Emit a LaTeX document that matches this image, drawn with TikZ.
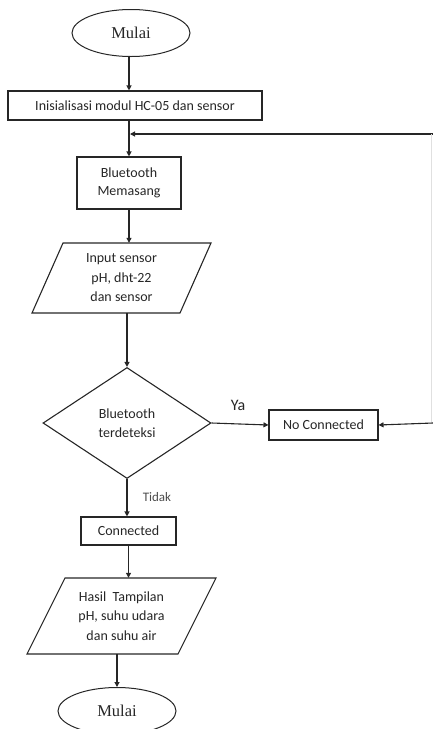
\documentclass[tikz,border=0pt]{standalone}
\usepackage{fontspec}
\setmainfont{Carlito}
\newfontfamily\mulaifont{Liberation Serif}
\usetikzlibrary{shapes.geometric,arrows.meta}
\tikzset{
  ln/.style={draw=black!85, line width=1.1pt},
  arr/.style={ln, -{Triangle[length=5pt,width=5pt]}},
  txt/.style={text=black!85, font=\fontsize{14}{19.5}\selectfont, align=center, inner sep=0pt},
  box/.style={txt, draw=black!85, line width=1.1pt, rectangle},
  term/.style={draw=black!85, line width=1pt, ellipse, inner sep=0pt, minimum width=118pt, minimum height=47pt, text=black!85, font=\mulaifont\fontsize{16.5}{18}\selectfont},
  dec/.style={txt, draw=black!85, line width=1.1pt, diamond, minimum width=168pt, minimum height=111pt},
  io/.style={txt, rectangle}
}
\begin{document}
\begin{tikzpicture}[x=1pt,y=-1pt]
\useasboundingbox (0,0) rectangle (433,729);
\begin{scope}
\clip (0,0) rectangle (433,729);
\node[term] (start) at (131,33) {Mulai};
\node[box, minimum width=254pt, minimum height=29pt] (init) at (135,105.5) {Inisialisasi modul HC-05 dan sensor};
\node[box, minimum width=104pt, minimum height=52pt, font=\fontsize{14}{18}\selectfont] (bt) at (129,183) {Bluetooth\\Memasang};
\node[io, minimum width=117pt, minimum height=70pt] (input) at (121.5,278) {Input sensor\\pH, dht-22\\dan sensor};
\draw[ln] ([shift={(-89.5,35)}]input.center) -- ([shift={(58.5,35)}]input.center) -- ([shift={(89.5,-35)}]input.center) -- ([shift={(-58.5,-35)}]input.center) -- cycle;
\node[dec] (dia) at (127,423) {Bluetooth\\terdeteksi};
\node[box, minimum width=109pt, minimum height=30pt] (nc) at (323.5,425) {No Connected};
\node[box, minimum width=95pt, minimum height=28pt] (conn) at (128.5,531) {Connected};
\node[io, minimum width=113pt, minimum height=76pt] (hasil) at (121.5,616) {Hasil~ Tampilan\\pH, suhu udara\\dan suhu air};
\draw[ln] ([shift={(-94.5,38)}]hasil.center) -- ([shift={(56.5,38)}]hasil.center) -- ([shift={(94.5,-38)}]hasil.center) -- ([shift={(-56.5,-38)}]hasil.center) -- cycle;
\node[term] (end) at (117,711) {Mulai};
\node[txt, font=\fontsize{16}{18}\selectfont] (ya) at (238,405) {Ya};
\node[txt, font=\fontsize{13}{15}\selectfont, text=black!70] (tidak) at (157,497) {Tidak};
\coordinate (fbR) at (433,134);
\coordinate (ncR) at (433,423);
\draw[arr] (start.south -| bt.north) -- (bt.north |- init.north);
\draw[arr] (bt.north |- init.south) -- (bt.north);
\draw[arr] (fbR) -- ([xshift=1pt]bt.north |- fbR);
\draw[draw=black!12, line width=0.6pt] (431,134) -- (431,423);
\draw[arr] (bt.south) -- (bt.south |- input.north);
\draw[arr] (dia.north |- input.south) -- (dia.north);
\draw[arr] (dia.east) -- (nc.west);
\draw[arr] (ncR) -- (nc.east);
\draw[arr] (dia.south) -- (dia.south |- conn.north);
\draw[arr] (conn.south) -- (conn.south |- hasil.north);
\draw[arr] (end.north |- hasil.south) -- (end.north);
\end{scope}
\end{tikzpicture}
\end{document}
